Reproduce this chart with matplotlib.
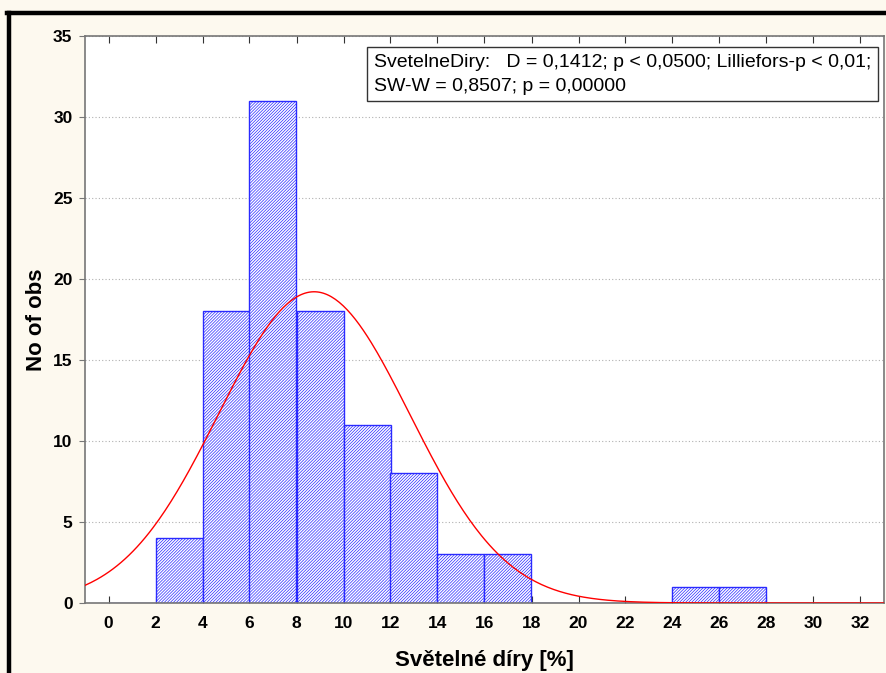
import numpy as np
import matplotlib
matplotlib.use('Agg')
import matplotlib.pyplot as plt
from matplotlib.lines import Line2D

# histogram data (bin left edges, bin width 2)
bin_starts = [0, 2, 4, 6, 8, 10, 12, 14, 16, 18, 20, 22, 24, 26, 28, 30]
counts = [0, 4, 18, 31, 18, 11, 8, 3, 3, 0, 0, 0, 1, 1, 0, 0]
bin_width = 2

# fitted normal curve parameters
fit_mean = 8.75
fit_sd = 4.07
n_obs = sum(counts)

x_ticks = list(range(0, 33, 2))
y_ticks = [0, 5, 10, 15, 20, 25, 30, 35]

stats_text = ("SvetelneDiry:   D = 0,1412; p < 0,0500; Lilliefors-p < 0,01;\n"
              "SW-W = 0,8507; p = 0,00000")

plt.rcParams['font.family'] = ['Liberation Sans', 'DejaVu Sans']
plt.rcParams['hatch.linewidth'] = 0.5

bg = '#fdf9ef'
fig = plt.figure(figsize=(8.87, 6.73), dpi=100, facecolor=bg)
ax = fig.add_axes([85 / 887, 1 - 603 / 673, 799 / 887, 567 / 673])
ax.set_facecolor('white')

ax.bar(bin_starts, counts, width=bin_width, align='edge', facecolor='white',
       edgecolor='#2a2aff', hatch='/' * 11, linewidth=1.0, zorder=2)

xs = np.linspace(-1, 33, 400)
ys = n_obs * bin_width / (fit_sd * np.sqrt(2 * np.pi)) * np.exp(-(xs - fit_mean) ** 2 / (2 * fit_sd ** 2))
ax.plot(xs, ys, color='red', linewidth=1.0, zorder=3)

ax.set_xlim(-1, 33)
ax.set_ylim(0, 35)
ax.set_xticks(x_ticks)
ax.set_yticks(y_ticks)
ax.tick_params(axis='x', direction='in', top=True, bottom=True, length=5,
               color='#333333', labelsize=12.5, pad=9)
ax.tick_params(axis='y', direction='out', length=4, color='#777777',
               labelsize=12.5, pad=5)
for lab in ax.get_xticklabels() + ax.get_yticklabels():
    lab.set_fontweight('bold')

ax.yaxis.grid(True, linestyle=(0, (1, 2)), color='#b0b0b0', linewidth=0.8, zorder=0)
ax.set_axisbelow(True)
for sp in ax.spines.values():
    sp.set_color('#777777')
    sp.set_linewidth(1.2)

ax.set_xlabel('Světelné díry [%]', fontsize=16, fontweight='bold', labelpad=14)
ax.set_ylabel('No of obs', fontsize=16, fontweight='bold', labelpad=4)

ax.text(0.362, 0.968, stats_text, transform=ax.transAxes, fontsize=14,
        va='top', ha='left', linespacing=1.5, zorder=5,
        bbox=dict(boxstyle='square,pad=0.35', facecolor='white',
                  edgecolor='#333333', linewidth=1.0))

# thick black frame on top and left
fig.add_artist(Line2D([9 / 887, 9 / 887], [0, 1 - 13 / 673], color='black',
                      linewidth=3.2, transform=fig.transFigure))
fig.add_artist(Line2D([7.5 / 887, 1], [1 - 13 / 673, 1 - 13 / 673], color='black',
                      linewidth=3.2, transform=fig.transFigure))

fig.savefig('out.png', dpi=100, facecolor=bg)
